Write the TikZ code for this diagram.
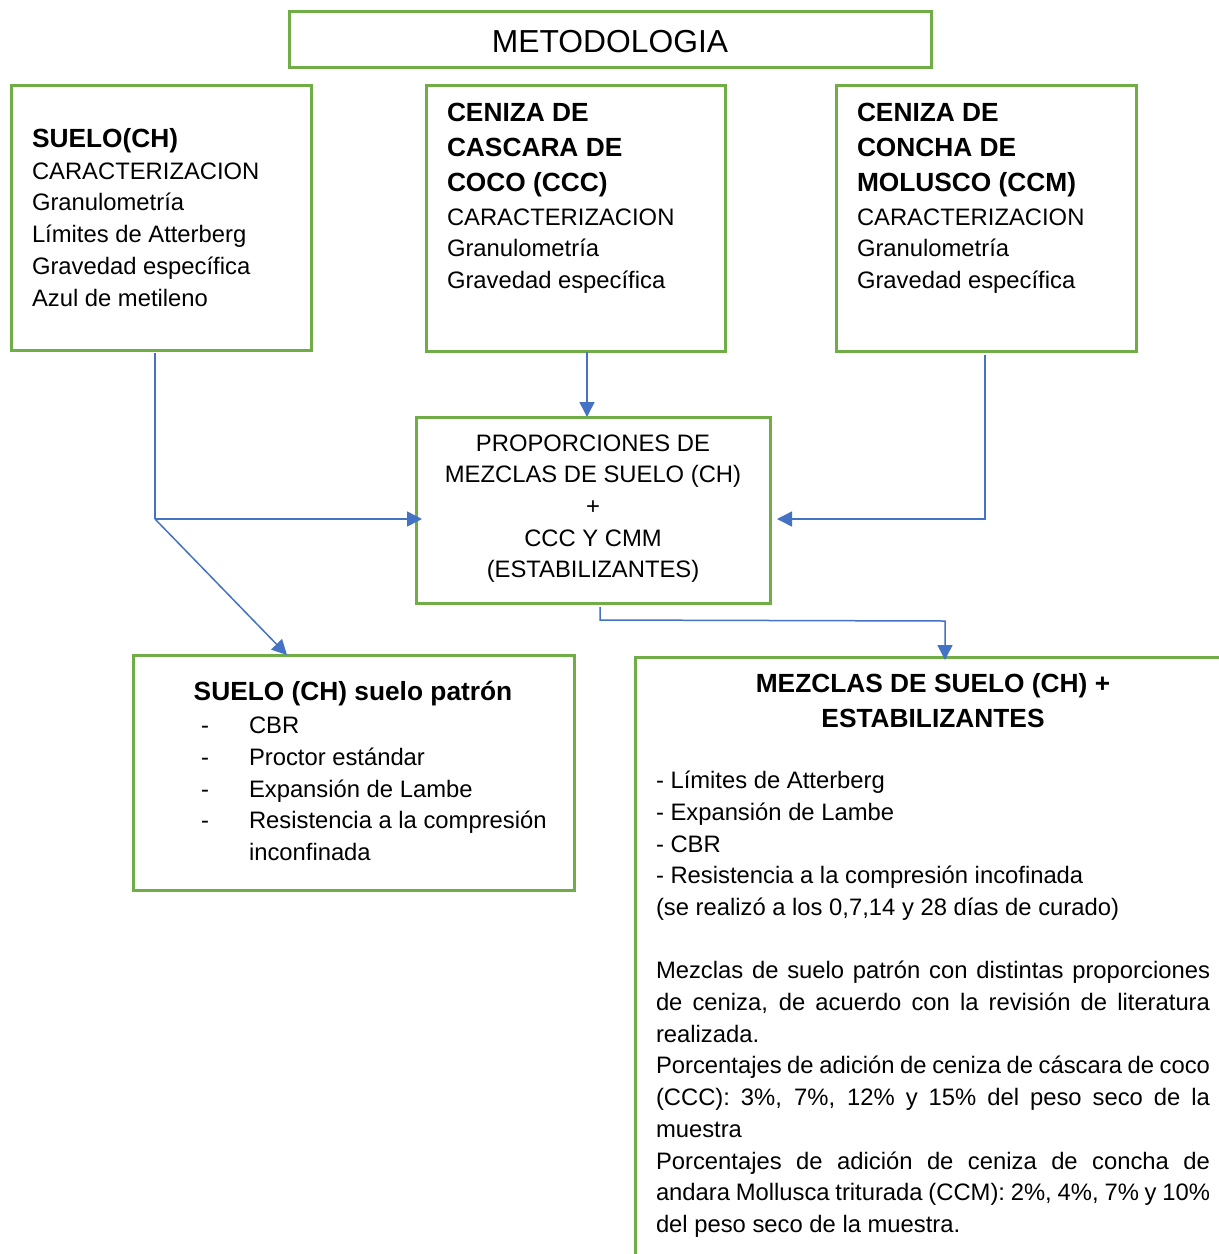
\documentclass[tikz,border=0pt]{standalone}
\usepackage{fontspec}
\setmainfont{Liberation Sans}
\usetikzlibrary{arrows.meta}
\definecolor{boxgreen}{HTML}{70AD47}
\definecolor{linkblue}{HTML}{4472C4}
\newcommand\fsn{\fontsize{23.8pt}{31.75pt}\selectfont}
\newcommand\fsb{\fontsize{26.3pt}{35pt}\selectfont\bfseries}
\newcommand\fst{\fontsize{31.8pt}{38pt}\selectfont}
\begin{document}
\begin{tikzpicture}[x=1pt,y=-1pt,
  box/.style={draw=boxgreen,line width=3pt,rectangle,anchor=north west,inner sep=0pt,outer sep=0pt},
  conn/.style={draw=linkblue,line width=1.5pt},
  arr/.style={conn,-{Triangle[length=15pt,width=15pt]}},
  lbl/.style={anchor=base west,inner sep=0pt,outer sep=0pt,font=\fsn},
  hdl/.style={anchor=base west,inner sep=0pt,outer sep=0pt,font=\fsb},
  clbl/.style={anchor=base,inner sep=0pt,outer sep=0pt,font=\fsn},
  chdl/.style={anchor=base,inner sep=0pt,outer sep=0pt,font=\fsb}]
\useasboundingbox (0,0) rectangle (1219,1254);
\clip (0,0) rectangle (1219,1254);
\fill[white] (0,0) rectangle (1219,1254);

% boxes
\node[box,minimum width=642pt,minimum height=56pt] (met) at (289,11) {};
\node[box,minimum width=300pt,minimum height=265pt] (suelo) at (11,85) {};
\node[box,minimum width=299pt,minimum height=266pt] (ccc) at (426,85) {};
\node[box,minimum width=300pt,minimum height=266pt] (ccm) at (836,85) {};
\node[box,minimum width=354pt,minimum height=186pt] (prop) at (416,417) {};
\node[box,minimum width=441pt,minimum height=235pt] (patron) at (133,655) {};
\node[box,minimum width=700pt,minimum height=700pt] (mez) at (635,657) {};

% title
\node[anchor=base,inner sep=0pt,font=\fst] (tmet) at (610,52) {METODOLOGIA};

% suelo box
\node[hdl] (s0) at (32,147) {SUELO(CH)};
\node[lbl] (s1) at (32,179) {CARACTERIZACION};
\node[lbl] (s2) at (32,210.7) {Granulometría};
\node[lbl] (s3) at (32,242.5) {Límites de Atterberg};
\node[lbl] (s4) at (32,274) {Gravedad específica};
\node[lbl] (s5) at (32,306) {Azul de metileno};

% ccc box
\node[hdl] (c0) at (447,121) {CENIZA DE};
\node[hdl] (c1) at (447,156) {CASCARA DE};
\node[hdl] (c2) at (447,191.5) {COCO (CCC)};
\node[lbl] (c3) at (447,225) {CARACTERIZACION};
\node[lbl] (c4) at (447,256.5) {Granulometría};
\node[lbl] (c5) at (447,288) {Gravedad específica};

% ccm box
\node[hdl] (m0) at (857,121) {CENIZA DE};
\node[hdl] (m1) at (857,156) {CONCHA DE};
\node[hdl] (m2) at (857,191.5) {MOLUSCO (CCM)};
\node[lbl] (m3) at (857,225) {CARACTERIZACION};
\node[lbl] (m4) at (857,256.5) {Granulometría};
\node[lbl] (m5) at (857,288) {Gravedad específica};

% proportions box
\node[clbl] (p0) at (593,451) {PROPORCIONES DE};
\node[clbl] (p1) at (593,482) {MEZCLAS DE SUELO (CH)};
\node[clbl] (p2) at (593,514) {+};
\node[clbl] (p3) at (593,546) {CCC Y CMM};
\node[clbl] (p4) at (593,577) {(ESTABILIZANTES)};

% patron box
\node[chdl] (q0) at (353,700) {SUELO (CH) suelo patrón};
\node[lbl] (qd1) at (201,733) {-};
\node[lbl] (qd2) at (201,765) {-};
\node[lbl] (qd3) at (201,797) {-};
\node[lbl] (qd4) at (201,828) {-};
\node[lbl] (q1) at (249,733) {CBR};
\node[lbl] (q2) at (249,765) {Proctor estándar};
\node[lbl] (q3) at (249,797) {Expansión de Lambe};
\node[lbl] (q4) at (249,828) {Resistencia a la compresión};
\node[lbl] (q5) at (249,860) {inconfinada};

% mezclas box
\node[chdl] (z0) at (933,692) {MEZCLAS DE SUELO (CH) +};
\node[chdl] (z1) at (933,727) {ESTABILIZANTES};
\node[lbl] (z2) at (656,788) {- Límites de Atterberg};
\node[lbl] (z3) at (656,820) {- Expansión de Lambe};
\node[lbl] (z4) at (656,852) {- CBR};
\node[lbl] (z5) at (656,883) {- Resistencia a la compresión incofinada};
\node[lbl] (z6) at (656,915) {(se realizó a los 0,7,14 y 28 días de curado)};
\node[lbl] (y1) at (656,978.5) {\makebox[554pt][s]{Mezclas de suelo patrón con distintas proporciones}};
\node[lbl] (y2) at (656,1010.25) {\makebox[554pt][s]{de ceniza, de acuerdo con la revisión de literatura}};
\node[lbl] (y3) at (656,1042) {realizada.};
\node[lbl] (y4) at (656,1073.75) {\makebox[554pt][s]{Porcentajes de adición de ceniza de cáscara de coco}};
\node[lbl] (y5) at (656,1105.5) {\makebox[554pt][s]{(CCC): 3\%, 7\%, 12\% y 15\% del peso seco de la}};
\node[lbl] (y6) at (656,1137.25) {muestra};
\node[lbl] (y7) at (656,1169) {\makebox[554pt][s]{Porcentajes de adición de ceniza de concha de}};
\node[lbl] (y8) at (656,1200.75) {\makebox[554pt][s]{andara Mollusca triturada (CCM): 2\%, 4\%, 7\% y 10\%}};
\node[lbl] (y9) at (656,1232.5) {del peso seco de la muestra.};

% connectors
\coordinate (a1) at (155,353);
\coordinate (a2) at (155,519);
\coordinate (a3) at (287,655);
\draw[conn] (a1) -- (a2);
\draw[arr,shorten >=-6pt] (a2) -- (prop.west |- a2);
\draw[arr] (a2) -- (a3);

\coordinate (b1) at (587,352);
\draw[arr] (b1) -- (prop.north -| b1);

\coordinate (e1) at (985,355);
\coordinate (e2) at (985,519);
\coordinate (e3) at (777,519);
\draw[arr] (e1) -- (e2) -- (e3);

\coordinate (d1) at (600,607);
\coordinate (d2) at (600,620);
\coordinate (d3) at (945,621);
\draw[arr,shorten >=-3pt] (d1) -- (d2) -- (d3) -- (mez.north -| d3);
\end{tikzpicture}
\end{document}
